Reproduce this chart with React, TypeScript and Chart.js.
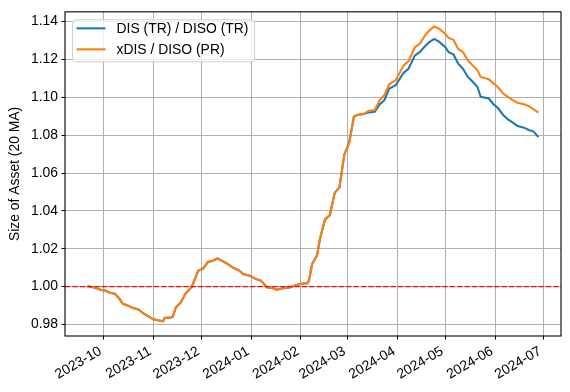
import React, { useEffect, useRef } from "react";
import { Chart, registerables } from "chart.js";

Chart.register(...registerables);

const dates = [
  "2023-09-21", "2023-09-26", "2023-09-29", "2023-10-02", "2023-10-05", "2023-10-08", "2023-10-11", "2023-10-13",
  "2023-10-16", "2023-10-19", "2023-10-23", "2023-10-26", "2023-10-29", "2023-11-01", "2023-11-04", "2023-11-07",
  "2023-11-08", "2023-11-11", "2023-11-13", "2023-11-15", "2023-11-18", "2023-11-21", "2023-11-25", "2023-11-29",
  "2023-12-02", "2023-12-05", "2023-12-08", "2023-12-11", "2023-12-15", "2023-12-18", "2023-12-21", "2023-12-24",
  "2023-12-27", "2023-12-31", "2024-01-04", "2024-01-07", "2024-01-09", "2024-01-11", "2024-01-14", "2024-01-17",
  "2024-01-21", "2024-01-25", "2024-01-28", "2024-02-01", "2024-02-05", "2024-02-06", "2024-02-08", "2024-02-11",
  "2024-02-13", "2024-02-16", "2024-02-19", "2024-02-22", "2024-02-25", "2024-02-28", "2024-03-02", "2024-03-05",
  "2024-03-07", "2024-03-11", "2024-03-14", "2024-03-18", "2024-03-21", "2024-03-24", "2024-03-27", "2024-03-31",
  "2024-04-05", "2024-04-08", "2024-04-12", "2024-04-15", "2024-04-19", "2024-04-21", "2024-04-24", "2024-04-27",
  "2024-05-01", "2024-05-03", "2024-05-06", "2024-05-09", "2024-05-12", "2024-05-15", "2024-05-18", "2024-05-21",
  "2024-05-23", "2024-05-28", "2024-05-31", "2024-06-03", "2024-06-06", "2024-06-09", "2024-06-12", "2024-06-15",
  "2024-06-19", "2024-06-22", "2024-06-25", "2024-06-28",
];

const disTR = [
  1.0003, 0.9993, 0.9983, 0.9979, 0.9968, 0.9962, 0.9935, 0.9909, 0.99, 0.9888, 0.9878, 0.9857, 0.9843, 0.9827,
  0.9822, 0.9817, 0.9834, 0.9836, 0.9839, 0.989, 0.9915, 0.9962, 1.0, 1.0084, 1.0095, 1.013, 1.0137, 1.0149,
  1.0131, 1.0116, 1.0098, 1.0088, 1.0067, 1.0058, 1.004, 1.0032, 1.0014, 0.9996, 0.9993, 0.9984, 0.9991, 0.9996,
  1.0004, 1.0015, 1.0018, 1.0033, 1.012, 1.0165, 1.0259, 1.0355, 1.0378, 1.0495, 1.0525, 1.0697, 1.0758, 1.0898,
  1.0907, 1.0912, 1.092, 1.0924, 1.0962, 1.0985, 1.1046, 1.1064, 1.113, 1.1151, 1.1222, 1.1239, 1.1277, 1.1292,
  1.1309, 1.1294, 1.1265, 1.1239, 1.1227, 1.1178, 1.1151, 1.1108, 1.1082, 1.1055, 1.1003, 1.0994, 1.0964, 1.0941,
  1.0907, 1.0884, 1.0866, 1.0849, 1.084, 1.0828, 1.0819, 1.079,
];

const xdisPR = [
  1.0003, 0.9993, 0.9983, 0.9979, 0.9968, 0.9962, 0.9935, 0.9909, 0.99, 0.9888, 0.9878, 0.9857, 0.9843, 0.9827,
  0.9822, 0.9817, 0.9834, 0.9836, 0.9839, 0.989, 0.9915, 0.9962, 1.0, 1.0084, 1.0095, 1.013, 1.0137, 1.0149,
  1.0131, 1.0116, 1.0098, 1.0088, 1.0067, 1.0058, 1.004, 1.0032, 1.0014, 0.9996, 0.9993, 0.9984, 0.9991, 0.9996,
  1.0004, 1.0015, 1.0018, 1.0033, 1.012, 1.0165, 1.0259, 1.0355, 1.0378, 1.0495, 1.0525, 1.0697, 1.0758, 1.0898,
  1.0907, 1.0912, 1.0928, 1.0933, 1.0985, 1.1012, 1.1069, 1.109, 1.1169, 1.119, 1.1265, 1.1283, 1.1335, 1.1353,
  1.1374, 1.1363, 1.1335, 1.1314, 1.1304, 1.1256, 1.1239, 1.1195, 1.1169, 1.1143, 1.1108, 1.1096, 1.1073, 1.1052,
  1.102, 1.1003, 1.0985, 1.0971, 1.0964, 1.0954, 1.0936, 1.0919,
];

const seriesLabels = ["DIS (TR) / DISO (TR)", "xDIS / DISO (PR)"];
const seriesColors = ["#1f77b4", "#ff7f0e"];
const yTicks = [0.98, 1.0, 1.02, 1.04, 1.06, 1.08, 1.1, 1.12, 1.14];
const monthTicks = [
  "2023-10-01", "2023-11-01", "2023-12-01", "2024-01-01", "2024-02-01",
  "2024-03-01", "2024-04-01", "2024-05-01", "2024-06-01", "2024-07-01",
];
const refLevel = 1.0;
const yTitle = "Size of Asset (20 MA)";

const FONT = "'Liberation Sans', Arial, sans-serif";
const FS = 13.9;
const DAY = 86400000;
const toDay = (s: string) => {
  const [y, m, d] = s.split("-").map(Number);
  return Date.UTC(y, m - 1, d) / DAY;
};
const fmtDay = (v: number) => {
  const dt = new Date(v * DAY);
  return `${dt.getUTCFullYear()}-${String(dt.getUTCMonth() + 1).padStart(2, "0")}`;
};

export default function App() {
  const ref = useRef<HTMLCanvasElement>(null);
  useEffect(() => {
    if (!ref.current) return;
    const xs = dates.map(toDay);
    const xMin0 = Math.min(...xs), xMax0 = Math.max(...xs);
    const xr = xMax0 - xMin0;
    const allY = [...disTR, ...xdisPR];
    const yMin0 = Math.min(...allY), yMax0 = Math.max(...allY);
    const yr = yMax0 - yMin0;

    const overlay = {
      id: "overlay",
      afterDatasetsDraw(chart: any) {
        const { ctx, chartArea: a, scales } = chart;
        const yy = scales.y.getPixelForValue(refLevel);
        ctx.save();
        ctx.strokeStyle = "red";
        ctx.lineWidth = 1.4;
        ctx.setLineDash([5.2, 2.2]);
        ctx.beginPath();
        ctx.moveTo(a.left, yy);
        ctx.lineTo(a.right, yy);
        ctx.stroke();
        ctx.setLineDash([]);
        // frame
        ctx.strokeStyle = "#000";
        ctx.lineWidth = 1.1;
        ctx.strokeRect(a.left, a.top, a.right - a.left, a.bottom - a.top);
        // legend
        const lx = a.left + 7.5, ly = a.top + 8, lw = 182, lh = 42, r = 3;
        ctx.beginPath();
        ctx.moveTo(lx + r, ly);
        ctx.lineTo(lx + lw - r, ly);
        ctx.quadraticCurveTo(lx + lw, ly, lx + lw, ly + r);
        ctx.lineTo(lx + lw, ly + lh - r);
        ctx.quadraticCurveTo(lx + lw, ly + lh, lx + lw - r, ly + lh);
        ctx.lineTo(lx + r, ly + lh);
        ctx.quadraticCurveTo(lx, ly + lh, lx, ly + lh - r);
        ctx.lineTo(lx, ly + r);
        ctx.quadraticCurveTo(lx, ly, lx + r, ly);
        ctx.closePath();
        ctx.fillStyle = "rgba(255,255,255,0.8)";
        ctx.fill();
        ctx.strokeStyle = "#d0d0d0";
        ctx.lineWidth = 1;
        ctx.stroke();
        ctx.font = `${FS}px ${FONT}`;
        ctx.textBaseline = "middle";
        ctx.textAlign = "left";
        seriesLabels.forEach((lab, i) => {
          const cy = ly + 8.5 + i * 21;
          ctx.strokeStyle = seriesColors[i];
          ctx.lineWidth = 2.1;
          ctx.beginPath();
          ctx.moveTo(lx + 4, cy);
          ctx.lineTo(lx + 33, cy);
          ctx.stroke();
          ctx.fillStyle = "#000";
          ctx.fillText(lab, lx + 44, cy + 0.5);
        });
        ctx.restore();
      },
    };

    const chart = new Chart(ref.current, {
      type: "line",
      data: {
        datasets: [
          {
            label: seriesLabels[0],
            data: xs.map((x, i) => ({ x, y: disTR[i] })),
            borderColor: seriesColors[0],
            borderWidth: 2.1,
            pointRadius: 0,
            tension: 0,
            order: 1,
          },
          {
            label: seriesLabels[1],
            data: xs.map((x, i) => ({ x, y: xdisPR[i] })),
            borderColor: seriesColors[1],
            borderWidth: 2.1,
            pointRadius: 0,
            tension: 0,
            order: 0,
          },
        ],
      },
      options: {
        animation: false,
        responsive: false,
        devicePixelRatio: 1,
        layout: { padding: { left: 0, right: 9, top: 10, bottom: 0 } },
        plugins: { legend: { display: false }, tooltip: { enabled: false } },
        scales: {
          x: {
            type: "linear",
            min: xMin0 - 0.05 * xr,
            max: xMax0 + 0.05 * xr,
            afterBuildTicks: (s: any) => {
              s.ticks = monthTicks.map((m) => ({ value: toDay(m) }));
            },
            afterFit: (s: any) => {
              s.height = 56;
            },
            ticks: {
              autoSkip: false,
              minRotation: 30,
              maxRotation: 30,
              padding: 3.5,
              labelOffset: -3,
              color: "#000",
              font: { family: FONT, size: FS },
              callback: (v: any) => fmtDay(Number(v)),
            },
            grid: { color: "#b0b0b0", lineWidth: 1, tickLength: 3.5, tickColor: "#000" },
            border: { display: false },
          },
          y: {
            type: "linear",
            min: yMin0 - 0.05 * yr,
            max: yMax0 + 0.05 * yr,
            afterBuildTicks: (s: any) => {
              s.ticks = yTicks.map((v) => ({ value: v }));
            },
            afterFit: (s: any) => {
              s.width = 65;
            },
            ticks: {
              padding: 3.5,
              color: "#000",
              font: { family: FONT, size: FS },
              callback: (v: any) => Number(v).toFixed(2),
            },
            grid: { color: "#b0b0b0", lineWidth: 1, tickLength: 3.5, tickColor: "#000" },
            border: { display: false },
            title: {
              display: true,
              text: yTitle,
              color: "#000",
              font: { family: FONT, size: FS },
              padding: { top: 7, bottom: 0 },
            },
          },
        },
      },
      plugins: [overlay],
    } as any);
    return () => chart.destroy();
  }, []);
  return (
    <div style={{ position: "fixed", left: 0, top: 0, width: 570, height: 392, background: "#fff" }}>
      <canvas ref={ref} width={570} height={392} />
    </div>
  );
}
